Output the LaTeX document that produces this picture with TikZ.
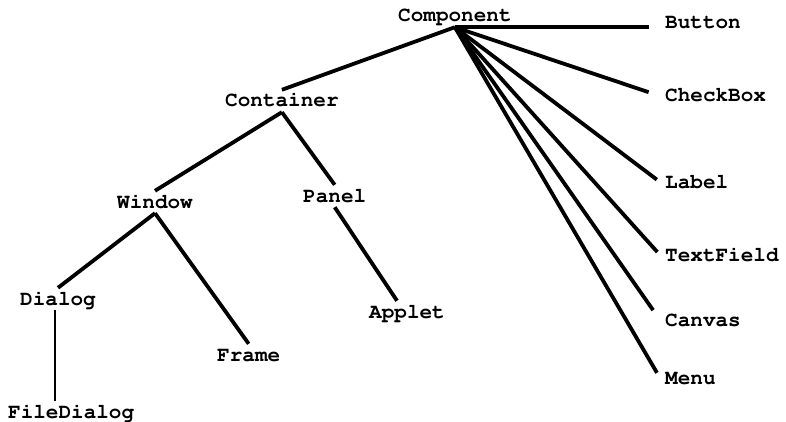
\documentclass[tikz,border=0pt]{standalone}
\usepackage[T1]{fontenc}
\begin{document}
\begin{tikzpicture}[x=1pt,y=-1pt,
    cls/.style={font=\fontfamily{pcr}\bfseries\fontsize{21}{21}\selectfont,anchor=base west,
                inner sep=5pt,text height=12pt,text depth=0pt},
    link/.style={line width=3.8pt},
    thinlink/.style={line width=1.8pt}]
    \useasboundingbox (0,0) rectangle (786,422);
    % class names
    \node[cls] (comp) at (393, 22) {Component};
    \node[cls] (cont) at (220,107) {Container};
    \node[cls] (win)  at (112,208) {Window};
    \node[cls] (pan)  at (298,202) {Panel};
    \node[cls] (dia)  at ( 15,305) {Dialog};
    \node[cls] (fra)  at (212,361) {Frame};
    \node[cls] (app)  at (364,318) {Applet};
    \node[cls] (fdia) at (  3,418) {FileDialog};
    \node[cls] (butt) at (660, 29) {Button};
    \node[cls] (chk)  at (660,102) {CheckBox};
    \node[cls] (lab)  at (660,188) {Label};
    \node[cls] (tf)   at (660,261) {TextField};
    \node[cls] (can)  at (660,326) {Canvas};
    \node[cls] (menu) at (660,384) {Menu};
    % tree
    \draw[link] (comp.south) -- (cont.north);
    \draw[link] (cont.south) -- (win.north);
    \draw[link] (cont.south) -- (pan.north);
    \draw[link] (win.south) -- (dia.north);
    \draw[link] (win.south) -- (fra.north);
    \draw[link] (pan.south) -- ([xshift=-10pt]app.north);
    \draw[thinlink] ([xshift=-3pt]dia.south) -- ([xshift=-3pt]dia.south |- fdia.north);
    % fan out of Component
    \draw[link,shorten >=11pt] (comp.south) -- (comp.south -| butt.west);
    \foreach \n/\s in {chk/12,lab/4,tf/4,can/12,menu/6}
        \draw[link,shorten >=\s pt] (comp.south) -- (\n.west);
\end{tikzpicture}
\end{document}
